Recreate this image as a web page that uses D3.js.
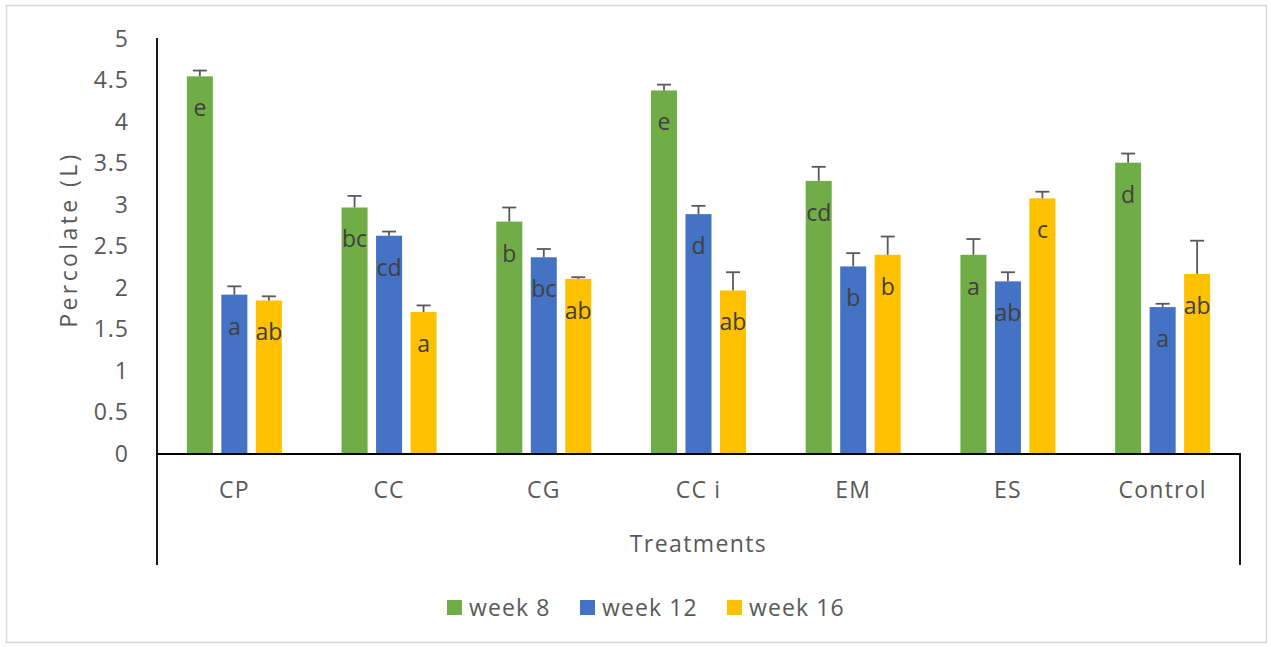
<!DOCTYPE html>
<html>
<head>
<meta charset="utf-8">
<script src="https://cdn.jsdelivr.net/npm/d3@7"></script>
<style>
  body { margin: 0; background: #fff; }
  text { font-family: "Open Sans", "Noto Sans", sans-serif; }
</style>
</head>
<body>
<div id="chart"></div>
<script>
// Chart data
const categories = ["CP", "CC", "CG", "CC i", "EM", "ES", "Control"];
const seriesNames = ["week 8", "week 12", "week 16"];
const seriesColors = ["#70ad47", "#4472c4", "#ffc000"];

const week8 = [4.55, 2.97, 2.80, 4.38, 3.29, 2.40, 3.51];
const week12 = [1.92, 2.63, 2.37, 2.89, 2.26, 2.08, 1.77];
const week16 = [1.85, 1.71, 2.11, 1.97, 2.40, 3.08, 2.17];

const err8 = [0.07, 0.14, 0.17, 0.07, 0.17, 0.19, 0.11];
const err12 = [0.10, 0.05, 0.10, 0.10, 0.16, 0.11, 0.04];
const err16 = [0.05, 0.08, 0.02, 0.22, 0.22, 0.08, 0.40];

const letters8 = ["e", "bc", "b", "e", "cd", "a", "d"];
const letters12 = ["a", "cd", "bc", "d", "b", "ab", "a"];
const letters16 = ["ab", "a", "ab", "ab", "b", "c", "ab"];

const yTickValues = [0, 0.5, 1, 1.5, 2, 2.5, 3, 3.5, 4, 4.5, 5];

// Chart dimensions
const width = 1271;
const height = 647;
const plotLeft = 157;
const plotRight = 1240;
const plotTop = 39;
const plotBottom = 454;
const boxBottom = 565;

const values = [week8, week12, week16];
const errors = [err8, err12, err16];
const letters = [letters8, letters12, letters16];

const rows = [];
categories.forEach((c, i) => {
  seriesNames.forEach((s, j) => {
    rows.push({ cat: c, series: s, idx: j, value: values[j][i], err: errors[j][i], letter: letters[j][i] });
  });
});

const svg = d3.select("#chart")
  .append("svg")
  .attr("width", width)
  .attr("height", height)
  .attr("viewBox", [0, 0, width, height]);

// outer border
svg.append("rect")
  .attr("x", 6.5).attr("y", 5.5)
  .attr("width", 1260).attr("height", 637)
  .attr("fill", "#fff")
  .attr("stroke", "#d9d9d9")
  .attr("stroke-width", 1.5);

// Scales
const x0 = d3.scaleBand()
  .domain(categories)
  .range([plotLeft, plotRight])
  .paddingInner(0.386)
  .paddingOuter(0.193);

const x1 = d3.scaleBand()
  .domain(seriesNames)
  .range([0, x0.bandwidth()])
  .paddingInner(0.246);

const y = d3.scaleLinear()
  .domain([0, 5])
  .range([plotBottom, plotTop]);

const color = d3.scaleOrdinal().domain(seriesNames).range(seriesColors);

// Bars
svg.append("g")
  .selectAll("rect")
  .data(rows)
  .join("rect")
  .attr("x", d => x0(d.cat) + x1(d.series))
  .attr("y", d => y(d.value))
  .attr("width", x1.bandwidth())
  .attr("height", d => y(0) - y(d.value))
  .attr("fill", d => color(d.series));

// Error bars
const errG = svg.append("g")
  .attr("stroke", "#595959")
  .attr("stroke-width", 1.8);

errG.selectAll("line.stem")
  .data(rows)
  .join("line")
  .attr("class", "stem")
  .attr("x1", d => x0(d.cat) + x1(d.series) + x1.bandwidth() / 2)
  .attr("x2", d => x0(d.cat) + x1(d.series) + x1.bandwidth() / 2)
  .attr("y1", d => y(d.value))
  .attr("y2", d => y(d.value + d.err));

errG.selectAll("line.cap")
  .data(rows)
  .join("line")
  .attr("class", "cap")
  .attr("x1", d => x0(d.cat) + x1(d.series) + x1.bandwidth() / 2 - 7)
  .attr("x2", d => x0(d.cat) + x1(d.series) + x1.bandwidth() / 2 + 7)
  .attr("y1", d => y(d.value + d.err))
  .attr("y2", d => y(d.value + d.err));

// Significance letters
svg.append("g")
  .selectAll("text")
  .data(rows)
  .join("text")
  .attr("x", d => x0(d.cat) + x1(d.series) + x1.bandwidth() / 2)
  .attr("y", d => y(d.value) + 40)
  .attr("text-anchor", "middle")
  .attr("fill", "#404040")
  .style("font-size", "23px")
  .text(d => d.letter);

// Y axis
const yAxis = svg.append("g")
  .attr("transform", `translate(${plotLeft},0)`)
  .call(d3.axisLeft(y)
    .tickValues(yTickValues)
    .tickSize(0)
    .tickPadding(28)
    .tickFormat(d => String(d)));
yAxis.select(".domain").remove();
yAxis.selectAll(".tick text")
  .attr("fill", "#595959")
  .style("font-size", "23px")
  .style("letter-spacing", "1px")
  .style("font-family", "'Open Sans', sans-serif");

svg.append("line")
  .attr("x1", plotLeft).attr("x2", plotLeft)
  .attr("y1", plotTop - 1).attr("y2", boxBottom)
  .attr("stroke", "#000")
  .attr("stroke-width", 1.8);

// X axis
const xAxis = svg.append("g")
  .attr("transform", `translate(0,${plotBottom})`)
  .call(d3.axisBottom(x0).tickSize(0).tickPadding(28));
xAxis.select(".domain").remove();
xAxis.selectAll(".tick text")
  .attr("fill", "#595959")
  .style("font-size", "23px")
  .style("letter-spacing", "1.2px")
  .style("font-family", "'Open Sans', sans-serif");

svg.append("path")
  .attr("d", `M${plotLeft},${plotBottom}H${plotRight}V${boxBottom}`)
  .attr("fill", "none")
  .attr("stroke", "#000")
  .attr("stroke-width", 1.8);

// Axis titles
svg.append("text")
  .attr("transform", `translate(77,${(152 + 327) / 2}) rotate(-90)`)
  .attr("text-anchor", "middle")
  .attr("fill", "#595959")
  .style("font-size", "23px")
  .style("letter-spacing", "3.4px")
  .text("Percolate (L)");

svg.append("text")
  .attr("x", (plotLeft + plotRight) / 2)
  .attr("y", 552)
  .attr("text-anchor", "middle")
  .attr("fill", "#595959")
  .style("font-size", "23px")
  .style("letter-spacing", "1.4px")
  .text("Treatments");

// Legend
const legendX = [447, 580, 727];
const legend = svg.append("g")
  .selectAll("g")
  .data(seriesNames)
  .join("g")
  .attr("transform", (d, i) => `translate(${legendX[i]},600)`);

legend.append("rect")
  .attr("width", 15)
  .attr("height", 15)
  .attr("fill", d => color(d));

legend.append("text")
  .attr("x", 22)
  .attr("y", 16)
  .attr("fill", "#595959")
  .style("font-size", "23px")
  .style("letter-spacing", "1.1px")
  .text(d => d);
</script>
</body>
</html>
